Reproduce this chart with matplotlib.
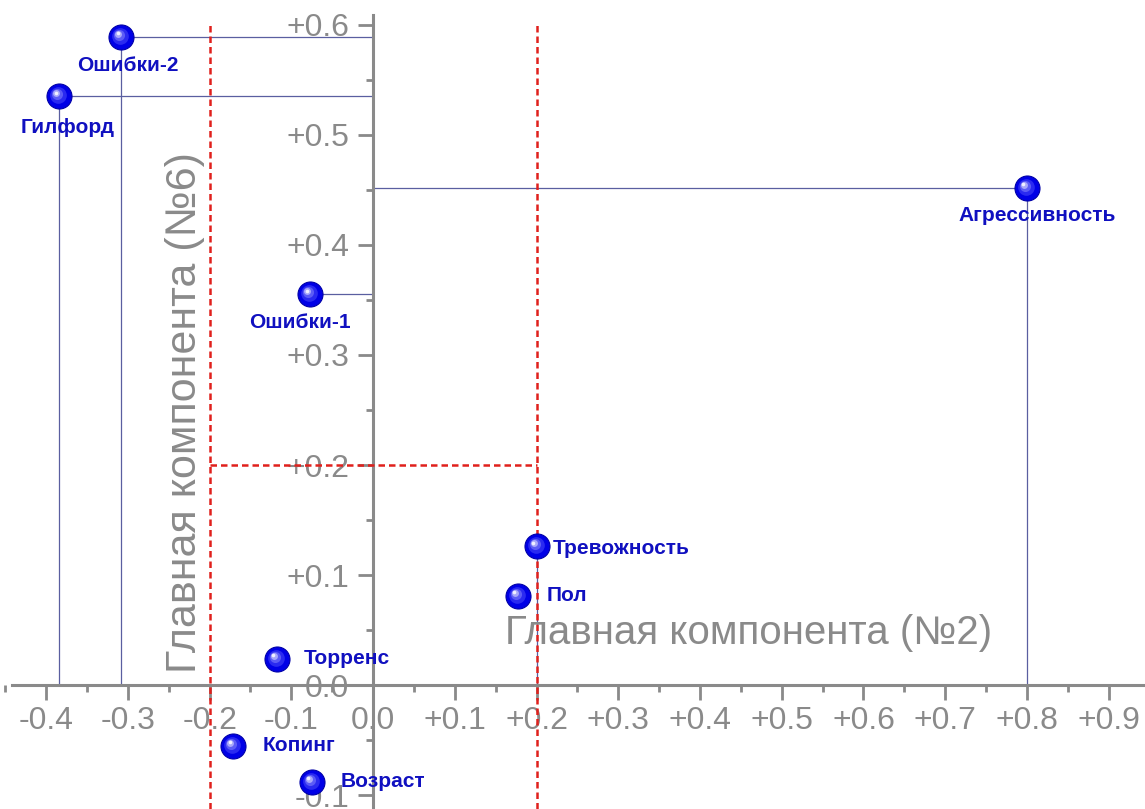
import matplotlib
matplotlib.use('Agg')
import matplotlib.pyplot as plt
from matplotlib.ticker import MultipleLocator, FixedLocator
from matplotlib.transforms import ScaledTranslation

# ---- data ----
names = ['Ошибки-2', 'Гилфорд', 'Агрессивность', 'Ошибки-1', 'Тревожность',
         'Пол', 'Торренс', 'Копинг', 'Возраст']
pc2 = [-0.308, -0.384, 0.800, -0.077, 0.200, 0.177, -0.118, -0.171, -0.075]
pc6 = [0.589, 0.535, 0.452, 0.355, 0.126, 0.081, 0.024, -0.055, -0.088]
drop_to_x = [True, True, True, False, True, False, False, False, False]
drop_to_y = [True, True, True, True, False, False, False, False, False]
x_ticks = [-0.4, -0.3, -0.2, -0.1, 0.0, 0.1, 0.2, 0.3, 0.4, 0.5, 0.6, 0.7, 0.8, 0.9]
x_tick_labels = ['-0.4', '-0.3', '-0.2', '-0.1', '0.0', '+0.1', '+0.2', '+0.3',
                 '+0.4', '+0.5', '+0.6', '+0.7', '+0.8', '+0.9']
y_ticks = [-0.1, 0.0, 0.1, 0.2, 0.3, 0.4, 0.5, 0.6]
y_tick_labels = ['-0.1', '0.0', '+0.1', '+0.2', '+0.3', '+0.4', '+0.5', '+0.6']
threshold = 0.2
x_title = 'Главная компонента (№2)'
y_title = 'Главная компонента (№6)'

# ---- style / layout ----
label_offsets = [(7, -28, 'center'), (8, -31, 'center'), (10, -28, 'center'),
                 (-10, -28, 'center'), (16, -2, 'left'), (29, 0, 'left'),
                 (27, 0, 'left'), (29, 0, 'left'), (29, 0, 'left')]
GRAY = '#8a8a8a'
RED = '#e0201c'
DROP = '#5a5fa0'
TXT = '#1010c0'

plt.rcParams['font.family'] = ['Liberation Sans', 'DejaVu Sans']

fig = plt.figure(figsize=(11.45, 8.09), dpi=100)
ax = fig.add_axes([0, 0, 1, 1])
ax.set_xlim(-0.4565, 0.9445)
ax.set_ylim(-0.1127, 0.6227)

for s in ['top', 'right']:
    ax.spines[s].set_visible(False)
ax.spines['left'].set_position(('data', 0))
ax.spines['bottom'].set_position(('data', 0))
for s in ['left', 'bottom']:
    ax.spines[s].set_color(GRAY)
    ax.spines[s].set_linewidth(2.2)
ax.spines['left'].set_bounds(-0.1127, 0.609)
ax.spines['bottom'].set_bounds(-0.442, 0.9445)

ax.xaxis.set_major_locator(FixedLocator(x_ticks))
ax.set_xticklabels(x_tick_labels)
ax.yaxis.set_major_locator(FixedLocator(y_ticks))
ax.set_yticklabels(y_tick_labels)
ax.xaxis.set_minor_locator(MultipleLocator(0.05))
ax.yaxis.set_minor_locator(MultipleLocator(0.05))
ax.tick_params(which='major', direction='out', length=11, width=2, color=GRAY,
               labelsize=23, labelcolor=GRAY)
ax.tick_params(which='minor', direction='out', length=5, width=2, color=GRAY)
ax.tick_params(axis='x', which='major', pad=4)
ax.tick_params(axis='y', which='major', pad=6)

# threshold lines
dash = dict(color=RED, lw=1.8, dashes=(2.6, 1.6), zorder=3)
ax.plot([-threshold, -threshold], [-0.1127, 0.603], **dash)
ax.plot([threshold, threshold], [-0.1127, 0.603], **dash)
ax.plot([-threshold, threshold], [threshold, threshold], **dash)

# drop lines
for x, y, dx, dy in zip(pc2, pc6, drop_to_x, drop_to_y):
    if dx:
        ax.plot([x, x], [0, y], color=DROP, lw=0.9, zorder=2)
    if dy:
        ax.plot([0, x], [y, y], color=DROP, lw=0.9, zorder=2)

# sphere-like markers
ax.plot(pc2, pc6, 'o', ms=18, color='#0000e6', mec='#0000a8', mew=0.8, zorder=5, ls='none')
layers = [(12, '#2a2af0', 1.0, 1.0), (8, '#5c5cf6', 2.0, 2.0), (5, '#a8a8fa', 3.0, 3.0),
          (2.6, '#f0f0ff', 3.6, 3.6)]
for ms, c, ox, oy in layers:
    tr = ax.transData + ScaledTranslation(-ox / 100, oy / 100, fig.dpi_scale_trans)
    ax.plot(pc2, pc6, 'o', ms=ms, color=c, mew=0, transform=tr, zorder=6, ls='none')

# labels
for name, x, y, (ox, oy, ha) in zip(names, pc2, pc6, label_offsets):
    ax.annotate(name, (x, y), xytext=(ox, oy), textcoords='offset pixels',
                ha=ha, va='center', fontsize=15, fontweight='bold', color=TXT, zorder=7)

# axis titles
ax.text(749 / 1145, 1 - 633 / 809, x_title, transform=ax.transAxes, ha='center', va='center',
        fontsize=29, color=GRAY)
ax.text(185 / 1145, 1 - 413 / 809, y_title, transform=ax.transAxes, ha='center', va='center',
        fontsize=31, color=GRAY, rotation=90)

fig.savefig('out.png', dpi=100)
